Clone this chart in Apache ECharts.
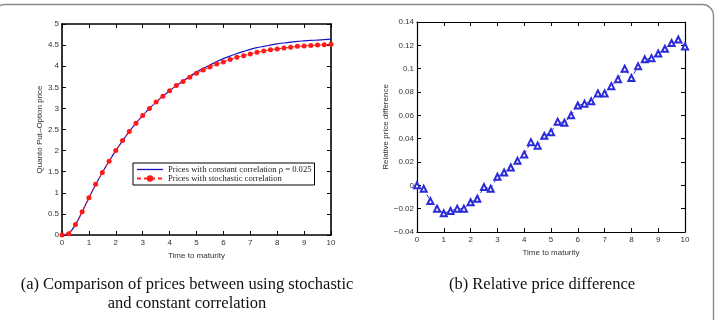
<!DOCTYPE html>
<html>
<head>
<meta charset="utf-8">
<script src="https://cdn.jsdelivr.net/npm/echarts@6/dist/echarts.min.js"></script>
<style>
  html, body { margin: 0; padding: 0; background: #fff; }
  #chart { width: 715px; height: 320px; }
</style>
</head>
<body>
<div id="chart"></div>
<script>
// time grid (every 0.25 years)
var times = [0, 0.25, 0.5, 0.75, 1, 1.25, 1.5, 1.75, 2, 2.25, 2.5, 2.75, 3, 3.25, 3.5, 3.75,
             4, 4.25, 4.5, 4.75, 5, 5.25, 5.5, 5.75, 6, 6.25, 6.5, 6.75, 7, 7.25, 7.5, 7.75,
             8, 8.25, 8.5, 8.75, 9, 9.25, 9.5, 9.75, 10];

// prices with constant correlation (blue line)
var constPrices = [0, 0.04, 0.24, 0.55, 0.88, 1.19, 1.48, 1.75, 2.0, 2.23, 2.45, 2.65, 2.83, 3.0, 3.15, 3.29,
                   3.42, 3.54, 3.65, 3.76, 3.86, 3.95, 4.03, 4.11, 4.18, 4.24, 4.3, 4.35, 4.4, 4.44, 4.47, 4.5,
                   4.53, 4.55, 4.57, 4.59, 4.6, 4.61, 4.62, 4.63, 4.64];

// prices with stochastic correlation (red markers)
var stochPrices = [0, 0.03, 0.25, 0.55, 0.88, 1.2, 1.48, 1.75, 2.0, 2.24, 2.45, 2.65, 2.83, 3.0, 3.15, 3.29,
                   3.42, 3.54, 3.64, 3.74, 3.83, 3.91, 3.98, 4.05, 4.1, 4.16, 4.21, 4.25, 4.29, 4.33, 4.36, 4.39,
                   4.41, 4.43, 4.45, 4.47, 4.48, 4.49, 4.5, 4.51, 4.52];

// relative price difference (right panel)
var relDiff = [0, -0.003, -0.0135, -0.02, -0.024, -0.022, -0.02, -0.02, -0.0145, -0.0115, -0.0015, -0.003,
               0.0073, 0.011, 0.0153, 0.021, 0.0265, 0.037, 0.034, 0.0424, 0.0456, 0.0546, 0.0537, 0.06,
               0.0684, 0.07, 0.072, 0.0788, 0.0788, 0.085, 0.091, 0.1, 0.092, 0.102, 0.108, 0.109,
               0.113, 0.117, 0.122, 0.125, 0.119];

var leftYTicks = [0, 0.5, 1, 1.5, 2, 2.5, 3, 3.5, 4, 4.5, 5];
var rightYTicks = [-0.04, -0.02, 0, 0.02, 0.04, 0.06, 0.08, 0.1, 0.12, 0.14];

var constName = 'Prices with constant correlation \u03c1 = 0.025';
var stochName = 'Prices with stochastic correlation';

function pairs(xs, ys) {
    return xs.map(function (x, i) { return [x, ys[i]]; });
}

var labelFont = { fontFamily: 'Liberation Sans, Arial', fontSize: 8, color: '#333' };

function xAxisPair(gridIndex, lineW) {
    var base = {
        gridIndex: gridIndex, type: 'value', min: 0, max: 10, interval: 1,
        splitLine: { show: false },
        axisLine: { onZero: false, lineStyle: { color: '#000', width: lineW } },
        axisTick: { inside: true, length: 4, lineStyle: { color: '#000', width: 1 } }
    };
    return [
        Object.assign({}, base, {
            position: 'bottom',
            axisLabel: Object.assign({ margin: 4 }, labelFont),
            name: 'Time to maturity', nameLocation: 'middle', nameGap: 13,
            nameTextStyle: labelFont
        }),
        Object.assign({}, base, { position: 'top', axisLabel: { show: false } })
    ];
}

function yAxisPair(gridIndex, lineW, min, max, step, name, nameGap, fmt) {
    var base = {
        gridIndex: gridIndex, type: 'value', min: min, max: max, interval: step,
        splitLine: { show: false },
        axisLine: { onZero: false, lineStyle: { color: '#000', width: lineW } },
        axisTick: { inside: true, length: 4, lineStyle: { color: '#000', width: 1 } }
    };
    return [
        Object.assign({}, base, {
            position: 'left',
            axisLabel: Object.assign({ margin: 3, formatter: fmt }, labelFont),
            name: name, nameLocation: 'middle', nameGap: nameGap,
            nameTextStyle: labelFont
        }),
        Object.assign({}, base, { position: 'right', axisLabel: { show: false } })
    ];
}

var chart = echarts.init(document.getElementById('chart'));

chart.setOption({
    animation: false,
    backgroundColor: '#fff',
    grid: [
        { left: 62, top: 24, width: 269, height: 211 },
        { left: 417, top: 22, width: 268, height: 210 }
    ],
    xAxis: xAxisPair(0, 1.6).concat(xAxisPair(1, 1.2)),
    yAxis: yAxisPair(0, 1.6, 0, 5, 0.5, 'Quanto Put\u2013Option price', 18, function (v) {
        return leftYTicks.indexOf(v) >= 0 ? String(v) : '';
    }).concat(yAxisPair(1, 1.2, -0.04, 0.14, 0.02, 'Relative price difference', 27, function (v) {
        var r = Math.round(v * 100) / 100;
        if (r === 0) return '0';
        return (r < 0 ? '\u2212' : '') + String(Math.abs(r));
    })),
    legend: {
        left: 133, top: 163,
        orient: 'vertical',
        itemGap: 0,
        itemWidth: 26, itemHeight: 8,
        padding: [2, 3, 2, 3],
        backgroundColor: '#fff',
        borderColor: '#000', borderWidth: 1,
        textStyle: { fontFamily: 'Liberation Serif, Times New Roman', fontSize: 8.6, color: '#222' },
        data: [
            { name: constName, icon: 'path://M0,0L26,0L26,1.3L0,1.3Z', itemStyle: { color: '#1515c8' } },
            { name: stochName }
        ]
    },
    series: [
        {
            name: constName,
            type: 'line', xAxisIndex: 0, yAxisIndex: 0,
            data: pairs(times, constPrices),
            smooth: 0.3,
            showSymbol: false, symbol: 'none',
            lineStyle: { color: '#1515c8', width: 1.2 },
            itemStyle: { color: '#1515c8' }
        },
        {
            name: stochName,
            type: 'line', xAxisIndex: 0, yAxisIndex: 0,
            data: pairs(times, stochPrices),
            symbol: 'circle', symbolSize: 5,
            lineStyle: { color: '#ff2020', width: 1, type: [4, 3] },
            itemStyle: { color: '#ff1a1a' },
            z: 3
        },
        {
            name: 'Relative price difference',
            type: 'line', xAxisIndex: 2, yAxisIndex: 2,
            data: pairs(times, relDiff),
            symbol: 'emptyTriangle', symbolSize: 6,
            lineStyle: { color: '#3a3ae0', width: 1, type: [4, 3] },
            itemStyle: { color: '#2a2ad8', borderWidth: 1.3 }
        }
    ],
    graphic: [
        {
            type: 'rect',
            shape: { x: -6, y: 4.5, width: 719.5, height: 340, r: 11 },
            style: { fill: 'none', stroke: '#8a8a8a', lineWidth: 1.4 },
            silent: true, z: -1
        },
        {
            type: 'text',
            x: 187, y: 275,
            style: {
                text: '(a) Comparison of prices between using stochastic\nand constant correlation',
                align: 'center', lineHeight: 19,
                font: '16.5px "Liberation Serif", "Times New Roman", serif', fill: '#111'
            }
        },
        {
            type: 'text',
            x: 542, y: 275,
            style: {
                text: '(b) Relative price difference',
                align: 'center', lineHeight: 19,
                font: '16.5px "Liberation Serif", "Times New Roman", serif', fill: '#111'
            }
        }
    ]
});
</script>
</body>
</html>
